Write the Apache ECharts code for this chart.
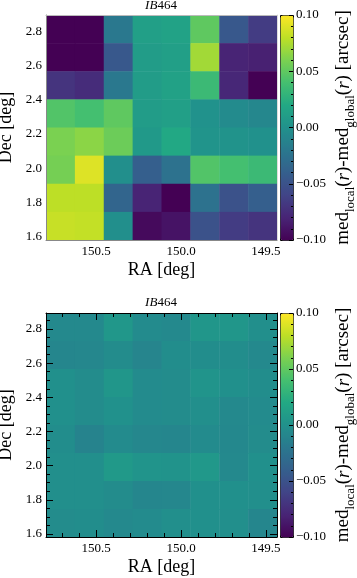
<!DOCTYPE html>
<html>
<head>
<meta charset="utf-8">
<title>IB464</title>
<script src="https://cdn.jsdelivr.net/npm/echarts@6/dist/echarts.min.js"></script>
<style>
  html, body { margin: 0; padding: 0; background: #fff; }
  #main { width: 357px; height: 578px; }
</style>
</head>
<body>
<div id="main"></div>
<script type="text/javascript">
// cell edges (RA runs right to left)
var raEdges = [150.795, 150.625, 150.455, 150.285, 150.115, 149.945, 149.775, 149.605, 149.435];
var decEdges = [2.894, 2.730, 2.566, 2.402, 2.238, 2.074, 1.910, 1.746, 1.582];

// tick labels
var raTicks = [150.5, 150.0, 149.5];
var raMinorTicks = [150.7, 150.6, 150.4, 150.3, 150.2, 150.1, 149.9, 149.8, 149.7, 149.6];
var decTicks = [1.6, 1.8, 2.0, 2.2, 2.4, 2.6, 2.8];
var decMinorTicks = [1.65, 1.7, 1.75, 1.85, 1.9, 1.95, 2.05, 2.1, 2.15, 2.25, 2.3, 2.35, 2.45, 2.5, 2.55, 2.65, 2.7, 2.75, 2.85];
var cbTicks = [-0.1, -0.05, 0, 0.05, 0.1];
var cbMinorTicks = [-0.09, -0.08, -0.07, -0.06, -0.04, -0.03, -0.02, -0.01, 0.01, 0.02, 0.03, 0.04, 0.06, 0.07, 0.08, 0.09];

// values, rows from top (high Dec) to bottom, columns left (high RA) to right
var topValues = [
  [-0.100, -0.100, -0.020, 0.012, 0.015, 0.050, -0.045, -0.065],
  [-0.100, -0.100, -0.045, 0.010, 0.012, 0.072, -0.080, -0.082],
  [-0.070, -0.075, -0.020, 0.010, 0.014, 0.035, -0.078, -0.100],
  [ 0.045,  0.040,  0.050, 0.010, 0.012, 0.001, -0.005, -0.008],
  [ 0.060,  0.065,  0.055, 0.007, 0.020, 0.003,  0.002,  0.000],
  [ 0.058,  0.090, -0.002, -0.040, -0.025, 0.045, 0.040, 0.035],
  [ 0.080,  0.080, -0.035, -0.080, -0.100, -0.025, -0.050, -0.040],
  [ 0.083,  0.082, -0.002, -0.095, -0.090, -0.050, -0.065, -0.070]
];
var bottomValues = [
  [-0.006, -0.006,  0.005, -0.005, -0.006,  0.004,  0.004, -0.002],
  [-0.009, -0.008, -0.004, -0.010, -0.003, -0.003, -0.003, -0.006],
  [-0.001, -0.004,  0.004, -0.005, -0.004,  0.003, -0.001, -0.003],
  [-0.001, -0.004,  0.000, -0.005, -0.004, -0.002, -0.006, -0.005],
  [-0.003, -0.011, -0.005, -0.008, -0.009, -0.005, -0.007, -0.004],
  [-0.002, -0.002,  0.007,  0.003,  0.002,  0.006, -0.006, -0.001],
  [-0.002, -0.002, -0.004, -0.009, -0.008, -0.001, -0.001, -0.002],
  [-0.004, -0.003, -0.006, -0.005, -0.002, -0.001, -0.002, -0.009]
];

var viridis = ['#440154', '#482475', '#414487', '#355f8d', '#2a788e', '#21918c',
               '#22a884', '#44bf70', '#7ad151', '#bddf26', '#fde725'];

var FONT = 'Liberation Serif';

function cells(values) {
  var out = [];
  for (var r = 0; r < values.length; r++) {
    for (var c = 0; c < values[r].length; c++) {
      out.push([raEdges[c], raEdges[c + 1], decEdges[r + 1], decEdges[r], values[r][c]]);
    }
  }
  return out;
}

function renderCell(params, api) {
  var p0 = api.coord([api.value(0), api.value(3)]);
  var p1 = api.coord([api.value(1), api.value(2)]);
  var x = Math.min(p0[0], p1[0]), y = Math.min(p0[1], p1[1]);
  return {
    type: 'rect',
    shape: { x: x, y: y, width: Math.abs(p1[0] - p0[0]) + 0.5, height: Math.abs(p1[1] - p0[1]) + 0.5 },
    style: { fill: api.visual('color') }
  };
}

var lbl = { fontFamily: FONT, fontSize: 13, color: '#000' };

// heatmap axes: kind = 'main' | 'minor' | 'line'
function raAxis(grid, pos, kind, frame, ticks) {
  var ax = {
    type: 'value', gridIndex: grid, position: pos, inverse: true,
    min: raEdges[8], max: raEdges[0], z: 10,
    splitLine: { show: false },
    axisLine: { show: kind !== 'minor', onZero: false, lineStyle: { color: frame, width: 1 } },
    axisLabel: { show: false },
    axisTick: { show: false }
  };
  if (ticks) {
    ax.axisTick = { show: true, inside: true, length: kind === 'minor' ? 4 : 7,
      customValues: kind === 'minor' ? raMinorTicks : raTicks, lineStyle: { color: '#000', width: 1 } };
  }
  if (kind === 'main' && pos === 'bottom') {
    ax.axisLabel = { show: true, customValues: raTicks, margin: 5, formatter: function (v) { return v.toFixed(1); } };
    Object.assign(ax.axisLabel, lbl);
    ax.name = 'RA [deg]';
    ax.nameLocation = 'middle';
    ax.nameGap = 21;
    ax.nameTextStyle = { fontFamily: FONT, fontSize: 18, color: '#000' };
  }
  return ax;
}

function decAxis(grid, pos, kind, frame, ticks) {
  var ax = {
    type: 'value', gridIndex: grid, position: pos,
    min: decEdges[8], max: decEdges[0], z: 10,
    splitLine: { show: false },
    axisLine: { show: kind !== 'minor', onZero: false, lineStyle: { color: frame, width: 1 } },
    axisLabel: { show: false },
    axisTick: { show: false }
  };
  if (ticks) {
    ax.axisTick = { show: true, inside: true, length: kind === 'minor' ? 4 : 7,
      customValues: kind === 'minor' ? decMinorTicks : decTicks, lineStyle: { color: '#000', width: 1 } };
  }
  if (kind === 'main' && pos === 'left') {
    ax.axisLabel = { show: true, customValues: decTicks, margin: 4, formatter: function (v) { return v.toFixed(1); } };
    Object.assign(ax.axisLabel, lbl);
    ax.name = 'Dec [deg]';
    ax.nameLocation = 'middle';
    ax.nameGap = 25;
    ax.nameTextStyle = { fontFamily: FONT, fontSize: 18, color: '#000' };
  }
  return ax;
}

function cbAxis(grid, minor) {
  var ax = {
    type: 'value', gridIndex: grid, position: 'right', min: -0.1, max: 0.1, z: 10,
    splitLine: { show: false },
    axisLine: { show: false, onZero: false },
    axisTick: { show: true, inside: true, length: minor ? 2 : 4,
      customValues: minor ? cbMinorTicks : cbTicks, lineStyle: { color: '#000', width: 1 } },
    axisLabel: { show: false }
  };
  if (!minor) {
    ax.axisLabel = { show: true, customValues: cbTicks, margin: 3,
      formatter: function (v) { return (v < 0 ? '\u2212' : '') + Math.abs(v).toFixed(2); } };
    Object.assign(ax.axisLabel, lbl);
    ax.name = '{m|med}{s|local}{m|(}{i|r}{m|)-med}{s|global}{m|(}{i|r}{m|) [arcsec]}';
    ax.nameLocation = 'middle';
    ax.nameRotate = 90;
    ax.nameGap = 41;
    ax.nameTextStyle = {
      fontFamily: FONT, fontSize: 19, color: '#000',
      rich: {
        m: { fontFamily: FONT, fontSize: 19, color: '#000', verticalAlign: 'bottom', padding: [0, 0, 4, 0] },
        i: { fontFamily: FONT, fontSize: 19, color: '#000', fontStyle: 'italic', verticalAlign: 'bottom', padding: [0, 0, 4, 0] },
        s: { fontFamily: FONT, fontSize: 13, color: '#000', verticalAlign: 'bottom' }
      }
    };
  }
  return ax;
}

function hiddenX(grid) {
  return { type: 'value', gridIndex: grid, show: false, min: 0, max: 1 };
}

function colorbar(top, height, series) {
  return {
    type: 'continuous', min: -0.1, max: 0.1, dimension: 4, seriesIndex: series,
    calculable: false, hoverLink: false, orient: 'vertical',
    left: 280, top: top, itemWidth: 13, itemHeight: height, padding: 0,
    borderColor: '#000', borderWidth: 1,
    inRange: { color: viridis }
  };
}

var titleRich = {
  it: { fontFamily: FONT, fontSize: 13, fontStyle: 'italic', fontWeight: 'normal', color: '#000' },
  n: { fontFamily: FONT, fontSize: 13, fontWeight: 'normal', color: '#000' }
};

var option = {
  backgroundColor: '#fff',
  animation: false,
  title: [
    { text: '{it|IB}{n|464}', left: 161, top: -1, padding: 0, textAlign: 'center',
      textStyle: { fontWeight: 'normal', rich: titleRich } },
    { text: '{it|IB}{n|464}', left: 161, top: 296, padding: 0, textAlign: 'center',
      textStyle: { fontWeight: 'normal', rich: titleRich } }
  ],
  grid: [
    { left: 46, top: 15, width: 231, height: 225, outerBoundsMode: 'none' },
    { left: 280, top: 15, width: 13, height: 225, outerBoundsMode: 'none' },
    { left: 46, top: 313, width: 231, height: 224, outerBoundsMode: 'none' },
    { left: 280, top: 313, width: 13, height: 224, outerBoundsMode: 'none' }
  ],
  xAxis: [
    raAxis(0, 'bottom', 'main', '#888', false),
    raAxis(0, 'top', 'line', '#bbb', false),
    hiddenX(1),
    raAxis(2, 'bottom', 'main', '#000', true),
    raAxis(2, 'bottom', 'minor', '#000', true),
    raAxis(2, 'top', 'main', '#000', true),
    raAxis(2, 'top', 'minor', '#000', true),
    hiddenX(3)
  ],
  yAxis: [
    decAxis(0, 'left', 'main', '#888', false),
    decAxis(0, 'right', 'line', '#ddd', false),
    cbAxis(1, false),
    cbAxis(1, true),
    decAxis(2, 'left', 'main', '#000', true),
    decAxis(2, 'left', 'minor', '#000', true),
    decAxis(2, 'right', 'main', '#000', true),
    decAxis(2, 'right', 'minor', '#000', true),
    cbAxis(3, false),
    cbAxis(3, true)
  ],
  visualMap: [
    colorbar(15, 225, 0),
    colorbar(313, 224, 1)
  ],
  series: [
    { type: 'custom', xAxisIndex: 0, yAxisIndex: 0, renderItem: renderCell,
      encode: { x: [0, 1], y: [2, 3] }, data: cells(topValues), clip: true },
    { type: 'custom', xAxisIndex: 3, yAxisIndex: 4, renderItem: renderCell,
      encode: { x: [0, 1], y: [2, 3] }, data: cells(bottomValues), clip: true }
  ]
};

var myChart = echarts.init(document.getElementById('main'));
myChart.setOption(option);
</script>
</body>
</html>
